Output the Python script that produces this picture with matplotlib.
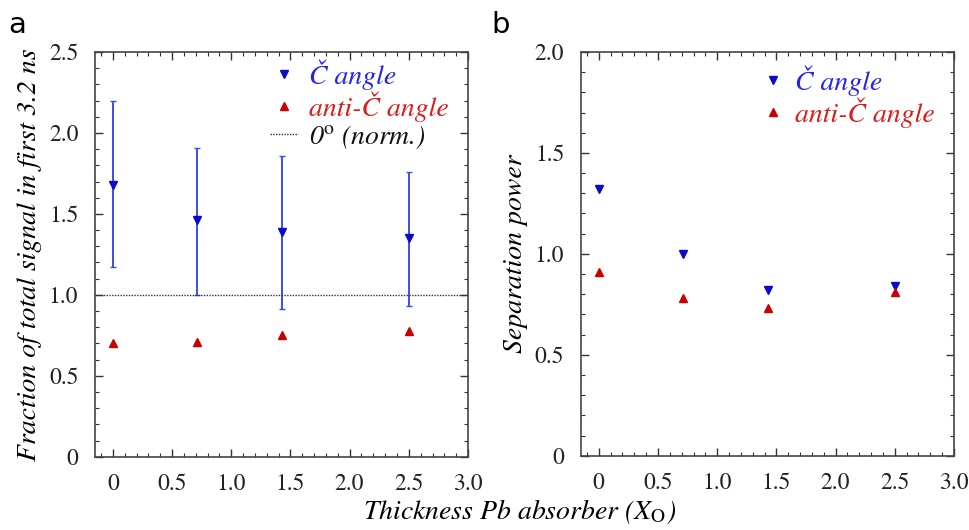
import numpy as np
import matplotlib.pyplot as plt
from matplotlib.ticker import MultipleLocator, FuncFormatter

# thickness of Pb absorber in radiation lengths
thickness = [0.0, 0.71, 1.43, 2.5]

# panel a: fraction of total signal in first 3.2 ns
frac_c = [1.68, 1.46, 1.39, 1.35]
frac_c_lo = [0.51, 0.46, 0.48, 0.42]
frac_c_hi = [0.52, 0.45, 0.47, 0.41]
frac_anti = [0.70, 0.71, 0.75, 0.78]
norm_level = 1.0

# panel b: separation power
sep_c = [1.32, 1.00, 0.82, 0.84]
sep_anti = [0.91, 0.78, 0.73, 0.81]

plt.rcParams['font.family'] = ['STIXGeneral', 'DejaVu Serif']
plt.rcParams['mathtext.fontset'] = 'custom'
plt.rcParams['mathtext.rm'] = 'STIXGeneral'
plt.rcParams['mathtext.it'] = 'STIXGeneral:italic'

blue_txt = '#2222ee'
blue_mk = '#0a0acc'
blue_err = '#3a4ef0'
red_txt = '#dd1a1a'
red_mk = '#c80000'


def fmt(v, pos):
    if abs(v) < 1e-9:
        return '0'
    return '%.1f' % v


def style_axes(ax, ymax):
    ax.set_xlim(-0.15, 3.0)
    ax.set_ylim(0, ymax)
    ax.xaxis.set_major_locator(MultipleLocator(0.5))
    ax.xaxis.set_minor_locator(MultipleLocator(0.1))
    ax.yaxis.set_major_locator(MultipleLocator(0.5))
    ax.yaxis.set_minor_locator(MultipleLocator(0.1))
    ax.xaxis.set_major_formatter(FuncFormatter(fmt))
    ax.yaxis.set_major_formatter(FuncFormatter(fmt))
    ax.tick_params(which='both', direction='in', top=True, right=True,
                   colors='#333333', labelcolor='#222222', labelsize=17)
    ax.tick_params(which='major', length=6, width=1, pad=12)
    ax.tick_params(which='minor', length=3, width=0.8)
    for s in ax.spines.values():
        s.set_color('#444444')
        s.set_linewidth(1.2)


fig = plt.figure(figsize=(9.7, 5.3), dpi=100)
ax1 = fig.add_axes([0.098, 0.138, 0.3845, 0.764])
ax2 = fig.add_axes([0.599, 0.140, 0.3845, 0.762])

# panel a
ax1.errorbar(thickness, frac_c, yerr=[frac_c_lo, frac_c_hi], fmt='none',
             ecolor=blue_err, elinewidth=1.4, capsize=2.5)
h1, = ax1.plot(thickness, frac_c, 'v', color=blue_mk, markersize=6,
               label='Č angle')
h2, = ax1.plot(thickness, frac_anti, '^', color=red_mk, markersize=6,
               label='anti-Č angle')
h3 = ax1.axhline(norm_level, color='#333333', linestyle=(0, (1, 1)),
                 linewidth=1, label=r'0$^{\mathrm{o}}$ (norm.)')
style_axes(ax1, 2.5)
ax1.set_ylabel('Fraction of total signal in first 3.2 ns', fontsize=20,
               style='italic', labelpad=5)
leg1 = ax1.legend(handles=[h1, h2, h3], loc='upper right',
                  bbox_to_anchor=(1.0, 1.03), frameon=False,
                  fontsize=20, handlelength=1.0, handletextpad=0.4,
                  labelspacing=0.05, borderaxespad=0.3)
for t, c in zip(leg1.get_texts(), [blue_txt, red_txt, '#111111']):
    t.set_color(c)
    t.set_style('italic')

# panel b
g1, = ax2.plot(thickness, sep_c, 'v', color=blue_mk, markersize=6,
               label='Č angle')
g2, = ax2.plot(thickness, sep_anti, '^', color=red_mk, markersize=6,
               label='anti-Č angle')
style_axes(ax2, 2.0)
ax2.set_ylabel('Separation power', fontsize=20, style='italic', labelpad=5)
leg2 = ax2.legend(handles=[g1, g2], loc='upper right',
                  bbox_to_anchor=(1.0, 1.015), frameon=False,
                  fontsize=20, handlelength=0.8, handletextpad=0.4,
                  labelspacing=0.05, borderaxespad=0.3)
for t, c in zip(leg2.get_texts(), [blue_txt, red_txt]):
    t.set_color(c)
    t.set_style('italic')

fig.text(0.536, 0.035, r'Thickness Pb absorber (X$_{\mathrm{O}}$)',
         ha='center', va='center', fontsize=20, style='italic')
fig.text(0.008, 0.98, 'a', fontsize=21, family='DejaVu Sans', va='top')
fig.text(0.507, 0.98, 'b', fontsize=21, family='DejaVu Sans', va='top')

fig.savefig('out.png', dpi=100)
